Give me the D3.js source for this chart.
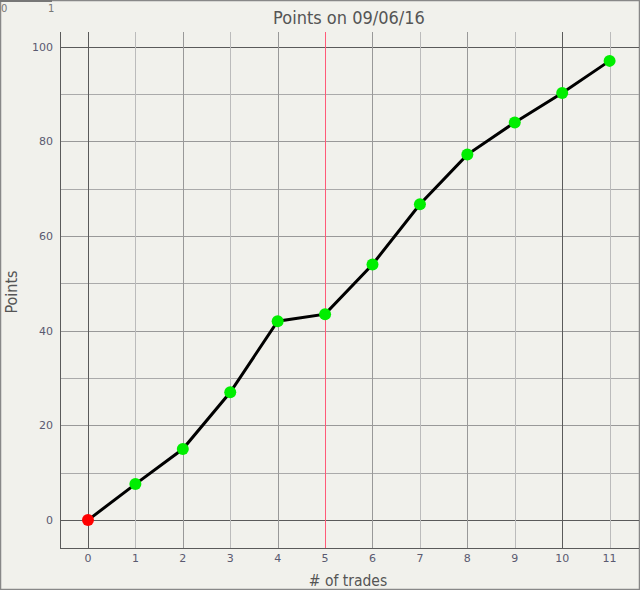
<!DOCTYPE html>
<html><head><meta charset="utf-8">
<script src="https://cdn.jsdelivr.net/npm/d3@7"></script>
<style>html,body{margin:0;padding:0;background:#f1f1ec;}svg{display:block;}</style>
</head><body>
<svg id="c" width="640" height="590"></svg>
<script>
const trades = [0,1,2,3,4,5,6,7,8,9,10,11];
const points = [0,7.6,15,27,42,43.5,54,66.7,77.2,84,90.2,97];
const xTicks = [0,1,2,3,4,5,6,7,8,9,10,11];
const yTicks = [0,20,40,60,80,100];
const yGrid = [0,10,20,30,40,50,60,70,80,90,100];
const title = "Points on 09/06/16";
const xLabel = "# of trades";
const yLabel = "Points";
const markerLine = 5;

(function(){
const svg = d3.select("#c");
const W=640,H=590;
const pL=60,pR=639,pT=32,pB=548;
const x = d3.scaleLinear().domain([-0.59,11.62]).range([pL,pR]);
const y = d3.scaleLinear().domain([-5.9,103.1]).range([pB,pT]);

svg.append("rect").attr("width",W).attr("height",H).attr("fill","#f1f1ec");
svg.append("rect").attr("x",0.5).attr("y",0.5).attr("width",W-1).attr("height",H-1)
  .attr("fill","none").attr("stroke","#888").attr("stroke-width",1.5);
svg.append("line").attr("x1",0).attr("x2",52).attr("y1",1).attr("y2",1).attr("stroke","#777").attr("stroke-width",2);
svg.append("text").attr("x",1).attr("y",12).attr("font-family","DejaVu Sans").attr("font-size",10).attr("fill","#777").text("0");
svg.append("text").attr("x",48).attr("y",12).attr("font-family","DejaVu Sans").attr("font-size",10).attr("fill","#777").text("1");

const g = svg.append("g");
g.selectAll(".hg").data(yGrid).enter().append("line")
  .attr("x1",pL).attr("x2",pR).attr("y1",d=>Math.round(y(d))+0.5).attr("y2",d=>Math.round(y(d))+0.5)
  .attr("stroke",d=> (d===0||d===100)?"#5a5a5a":(d%20===0?"#999":"#aaa")).attr("stroke-width",1);
g.selectAll(".vg").data(xTicks).enter().append("line")
  .attr("y1",pT).attr("y2",pB).attr("x1",d=>Math.round(x(d))+0.5).attr("x2",d=>Math.round(x(d))+0.5)
  .attr("stroke",d=> d===markerLine?"#ff5a78":((d===0||d===10)?"#5a5a5a":(d%2===0?"#999":"#bbb"))).attr("stroke-width",1);

svg.append("line").attr("x1",pL+0.5).attr("x2",pL+0.5).attr("y1",pT).attr("y2",pB).attr("stroke","#5a5a5a");
svg.append("line").attr("x1",pL).attr("x2",pR).attr("y1",pB+0.5).attr("y2",pB+0.5).attr("stroke","#5a5a5a");

const lblFont = "DejaVu Sans";
svg.selectAll(".xt").data(xTicks).enter().append("text")
  .attr("x",d=>x(d)).attr("y",pB+14).attr("text-anchor","middle")
  .attr("font-family",lblFont).attr("font-size",11).attr("fill","#5a5a70").text(d=>d);
svg.selectAll(".yt").data(yTicks).enter().append("text")
  .attr("x",pL-7).attr("y",d=>y(d)+4).attr("text-anchor","end")
  .attr("font-family",lblFont).attr("font-size",11).attr("fill","#5a5a70").text(d=>d);

svg.append("text").attr("x",349).attr("y",24).attr("text-anchor","middle")
  .attr("font-family","DejaVu Sans Condensed, DejaVu Sans").attr("font-size",18).attr("fill","#555").text(title);
svg.append("text").attr("x",348).attr("y",586).attr("text-anchor","middle")
  .attr("font-family","DejaVu Sans Condensed, DejaVu Sans").attr("font-size",15.5).attr("fill","#555").text(xLabel);
svg.append("text").attr("transform","translate(17,292) rotate(-90)").attr("text-anchor","middle")
  .attr("font-family","DejaVu Sans Condensed, DejaVu Sans").attr("font-size",16).attr("fill","#555").text(yLabel);

const data = trades.map((t,i)=>({t, v:points[i]}));
svg.append("path").datum(data)
  .attr("d", d3.line().x(d=>x(d.t)).y(d=>y(d.v)))
  .attr("fill","none").attr("stroke","#000").attr("stroke-width",3);
svg.selectAll(".pt").data(data).enter().append("circle")
  .attr("cx",d=>x(d.t)).attr("cy",d=>y(d.v)).attr("r",6)
  .attr("fill",(d,i)=> i===0?"#ff0000":"#00ee00");
})();
</script>
</body></html>
